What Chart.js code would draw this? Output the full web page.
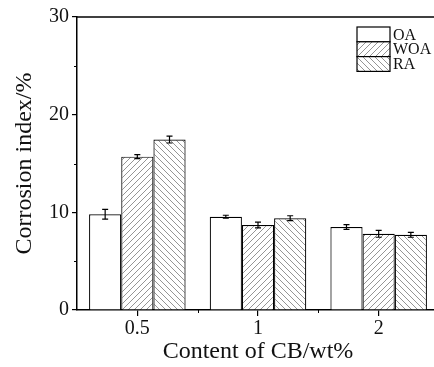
<!DOCTYPE html>
<html>
<head>
<meta charset="utf-8">
<script src="https://cdn.jsdelivr.net/npm/chart.js@4.4.0/dist/chart.umd.min.js"></script>
<style>
html,body{margin:0;padding:0;overflow:hidden;background:#fff;width:434px;height:367px;}
#wrap{width:434px;height:367px;overflow:hidden;position:relative;}
canvas{display:block;}
</style>
</head>
<body>
<div id="wrap"><canvas id="c" width="439" height="367" style="width:439px;height:367px"></canvas></div>
<script>
const categories = ['0.5', '1', '2'];
const seriesNames = ['OA', 'WOA', 'RA'];
const oaValues  = [9.8, 9.55, 8.5];
const woaValues = [15.7, 8.7, 7.8];
const raValues  = [17.45, 9.4, 7.7];
const oaErrors  = [0.5, 0.15, 0.25];
const woaErrors = [0.2, 0.3, 0.35];
const raErrors  = [0.35, 0.25, 0.25];
const yMinorTicks = [5, 15, 25];

const SERIF = "'Liberation Serif', 'Times New Roman', serif";

function hatch(dir) {
  const s = 6;
  const c = document.createElement('canvas');
  c.width = s; c.height = s;
  const g = c.getContext('2d');
  g.fillStyle = '#fff';
  g.fillRect(0, 0, s, s);
  g.strokeStyle = '#7a7a7a';
  g.lineWidth = 0.8;
  g.beginPath();
  if (dir === '/') {
    g.moveTo(-1, s + 1); g.lineTo(s + 1, -1);
    g.moveTo(-1, 1); g.lineTo(1, -1);
    g.moveTo(s - 1, s + 1); g.lineTo(s + 1, s - 1);
  } else {
    g.moveTo(-1, -1); g.lineTo(s + 1, s + 1);
    g.moveTo(-1, s - 1); g.lineTo(1, s + 1);
    g.moveTo(s - 1, -1); g.lineTo(s + 1, 1);
  }
  g.stroke();
  return g.createPattern(c, 'repeat');
}

const ctx0 = document.getElementById('c').getContext('2d');
const fills = ['#ffffff', hatch('/'), hatch('\\')];
const valueSets = [oaValues, woaValues, raValues];
const errorSets = [oaErrors, woaErrors, raErrors];

const errorBars = {
  id: 'errorBars',
  afterDatasetsDraw(chart) {
    const ctx = chart.ctx;
    const y = chart.scales.y;
    ctx.save();
    ctx.strokeStyle = '#000';
    ctx.lineWidth = 1.2;
    chart.data.datasets.forEach((ds, di) => {
      const meta = chart.getDatasetMeta(di);
      meta.data.forEach((bar, i) => {
        const v = ds.data[i], e = errorSets[di][i];
        const x = bar.x;
        const yt = y.getPixelForValue(v + e), yb = y.getPixelForValue(v - e);
        ctx.beginPath();
        ctx.moveTo(x, yt); ctx.lineTo(x, yb);
        ctx.moveTo(x - 3, yt); ctx.lineTo(x + 3, yt);
        ctx.moveTo(x - 3, yb); ctx.lineTo(x + 3, yb);
        ctx.stroke();
      });
    });
    ctx.restore();
  }
};

const extras = {
  id: 'extras',
  afterDraw(chart) {
    const ctx = chart.ctx;
    const a = chart.chartArea;
    const y = chart.scales.y, x = chart.scales.x;
    ctx.save();
    ctx.strokeStyle = '#000';
    ctx.lineWidth = 1.5;
    ctx.beginPath();
    ctx.moveTo(a.left, a.top); ctx.lineTo(chart.width, a.top);
    ctx.stroke();
    ctx.lineWidth = 1;
    ctx.beginPath();
    yMinorTicks.forEach(v => {
      const py = Math.round(y.getPixelForValue(v)) + 0.5;
      ctx.moveTo(a.left - 3, py); ctx.lineTo(a.left, py);
    });
    for (let i = 0; i < categories.length - 1; i++) {
      const px = Math.round((x.getPixelForValue(i) + x.getPixelForValue(i + 1)) / 2) + 0.5;
      ctx.moveTo(px, a.bottom); ctx.lineTo(px, a.bottom + 3);
    }
    ctx.stroke();
    const bx = 357, bw = 33, bh = 14.8;
    let by = 27;
    ctx.font = '16px ' + SERIF;
    ctx.textBaseline = 'middle';
    ctx.textAlign = 'left';
    chart.data.datasets.forEach((ds, di) => {
      ctx.fillStyle = ds.backgroundColor;
      ctx.fillRect(bx, by, bw, bh);
      ctx.lineWidth = 1.2;
      ctx.strokeStyle = '#000';
      ctx.strokeRect(bx, by, bw, bh);
      ctx.fillStyle = '#111';
      ctx.fillText(ds.label, bx + bw + 3, by + bh / 2 + 1);
      by += bh;
    });
    ctx.restore();
  }
};

new Chart(ctx0, {
  type: 'bar',
  data: {
    labels: categories,
    datasets: seriesNames.map((n, i) => ({
      label: n,
      data: valueSets[i],
      backgroundColor: fills[i],
      borderColor: '#000',
      borderWidth: 1.2,
      borderSkipped: 'bottom',
      categoryPercentage: 0.8,
      barPercentage: 1.0
    }))
  },
  options: {
    responsive: false,
    animation: false,
    layout: { padding: { top: 17, right: 0, left: 0, bottom: 0 } },
    plugins: { legend: { display: false }, tooltip: { enabled: false } },
    scales: {
      x: {
        grid: { display: true, drawOnChartArea: false, offset: false, tickLength: 6, color: '#000', lineWidth: 1.2 },
        border: { display: true, color: '#000', width: 1.5 },
        ticks: { color: '#111', font: { family: SERIF, size: 20 }, padding: 1 },
        title: { display: true, text: 'Content of CB/wt%', color: '#111', font: { family: SERIF, size: 24 }, padding: { top: 0, bottom: 1 } },
        afterFit(s) { s.height = 57; }
      },
      y: {
        min: 0, max: 30,
        ticks: { stepSize: 10, color: '#111', font: { family: SERIF, size: 20 }, padding: 3 },
        grid: { display: true, drawOnChartArea: false, tickLength: 5, color: '#000', lineWidth: 1.2 },
        border: { display: true, color: '#000', width: 1.5 },
        title: { display: true, text: 'Corrosion index/%', color: '#111', font: { family: SERIF, size: 24 }, padding: { top: 10, bottom: 0 } },
        afterFit(s) { s.width = 77; }
      }
    }
  },
  plugins: [errorBars, extras]
});
</script>
</body>
</html>
